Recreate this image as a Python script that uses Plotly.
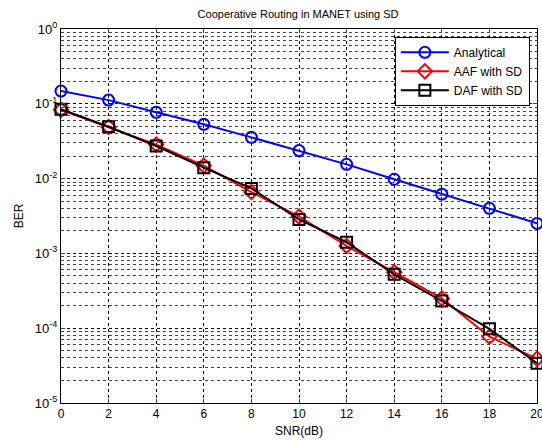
import plotly.graph_objects as go
import numpy as np

snr = [0, 2, 4, 6, 8, 10, 12, 14, 16, 18, 20]
ber_analytical = [0.148, 0.112, 0.0769, 0.0532, 0.0356, 0.0237, 0.0155, 0.0098, 0.0062, 0.0040, 0.00252]
ber_aaf = [0.0830, 0.0490, 0.0285, 0.0149, 0.0066, 0.0031, 0.00126, 0.00056, 0.00025, 0.000077, 0.000039]
ber_daf = [0.0844, 0.0494, 0.0273, 0.0140, 0.0074, 0.00285, 0.00141, 0.000525, 0.000231, 0.000098, 0.000034]

decades = [1e0, 1e-1, 1e-2, 1e-3, 1e-4, 1e-5]
decade_labels = ["10<sup>0</sup>", "10<sup>-1</sup>", "10<sup>-2</sup>", "10<sup>-3</sup>", "10<sup>-4</sup>", "10<sup>-5</sup>"]
minor_vals = [m * 10.0**e for e in range(-5, 0) for m in range(2, 10)]

fig = go.Figure()
fig.add_trace(go.Scatter(x=snr, y=ber_analytical, name="Analytical", mode="lines+markers",
                         line=dict(color="#0000ff", width=2),
                         marker=dict(symbol="circle-open", size=11, color="#0000ff", line=dict(width=2))))
fig.add_trace(go.Scatter(x=snr, y=ber_aaf, name="AAF with SD", mode="lines+markers",
                         line=dict(color="#ff0000", width=2),
                         marker=dict(symbol="diamond-open", size=11, color="#ff0000", line=dict(width=2))))
fig.add_trace(go.Scatter(x=snr, y=ber_daf, name="DAF with SD", mode="lines+markers",
                         line=dict(color="#000000", width=2),
                         marker=dict(symbol="square-open", size=11, color="#000000", line=dict(width=2))))
fig.update_traces(cliponaxis=False)

fig.update_layout(
    width=542, height=444,
    margin=dict(l=61, r=5, t=29, b=41, autoexpand=False),
    paper_bgcolor="white", plot_bgcolor="white",
    font=dict(family="Liberation Sans, Arial", size=12, color="black"),
    title=dict(text="Cooperative Routing in MANET using SD", x=0.55, xanchor="center",
               y=0.968, yanchor="middle", font=dict(size=11)),
    showlegend=True,
    legend=dict(x=0.985, xanchor="right", y=0.979, yanchor="top",
                bgcolor="white", bordercolor="black", borderwidth=1,
                font=dict(size=12), itemwidth=48, tracegroupgap=0),
)
fig.update_xaxes(range=[0, 20], tickvals=snr, ticks="inside", ticklen=4, mirror="ticks",
                 showline=True, linecolor="black", linewidth=1, ticklabeloverflow="allow",
                 automargin=False,
                 showgrid=True, gridcolor="black", griddash="dot", gridwidth=1,
                 zeroline=False, title=dict(text="SNR(dB)", standoff=6, font=dict(size=12)),
                 tickfont=dict(size=12))
fig.update_yaxes(type="log", range=[-5, 0], tickvals=decades, ticktext=decade_labels,
                 ticks="inside", ticklen=4, mirror="ticks", automargin=False,
                 showline=True, linecolor="black", linewidth=1,
                 showgrid=True, gridcolor="black", griddash="dot", gridwidth=1,
                 minor=dict(tickvals=minor_vals, showgrid=True, gridcolor="#444444",
                            griddash="dot", gridwidth=1, ticks="inside", ticklen=2),
                 zeroline=False, title=dict(text="BER", standoff=8, font=dict(size=12)),
                 tickfont=dict(size=13))

fig.write_html("out.html")
